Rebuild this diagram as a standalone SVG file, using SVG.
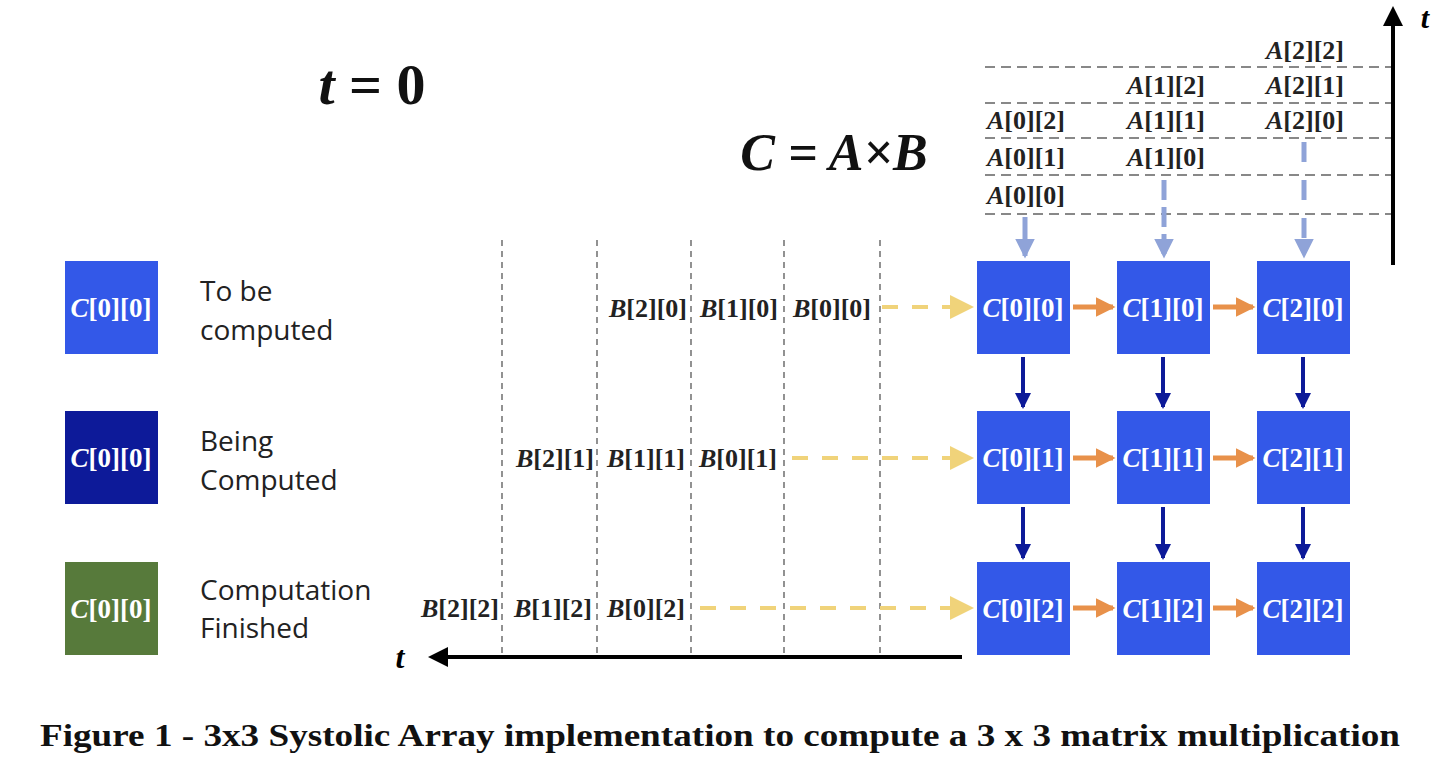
<svg xmlns="http://www.w3.org/2000/svg" width="1440" height="761" viewBox="0 0 1440 761">
<defs>
<style>
.m{font-family:"Liberation Serif",serif;font-weight:bold;font-size:26px;fill:#222;text-anchor:middle}
.m tspan.v{font-style:italic}
.c{font-family:"Liberation Serif",serif;font-weight:bold;font-size:27px;fill:#fff;text-anchor:middle}
.c tspan.v{font-style:italic}
.lg{font-family:"Open Sans","Liberation Sans",sans-serif;font-size:28px;fill:#222}
.gd{stroke:#777;stroke-width:1.6;stroke-dasharray:6,5}
.gh{stroke:#888;stroke-width:2;stroke-dasharray:10,6}
.ye{stroke:#f0d37a;stroke-width:4;stroke-dasharray:16,14}
.la{stroke:#8fa3d8;stroke-width:5}
.to{fill:#3358e8}
</style>
<marker id="ay" markerWidth="6" markerHeight="6" refX="5" refY="3" orient="auto" markerUnits="strokeWidth"><path d="M0,0L6,3L0,6z" fill="#f0d37a"/></marker>
<marker id="ao" markerWidth="4" markerHeight="4" refX="3.5" refY="2" orient="auto" markerUnits="strokeWidth"><path d="M0,0L4,2L0,4z" fill="#e8914a"/></marker>
<marker id="ad" markerWidth="4" markerHeight="4" refX="3.5" refY="2" orient="auto" markerUnits="strokeWidth"><path d="M0,0L4,2L0,4z" fill="#0d1a99"/></marker>
<marker id="al" markerWidth="4" markerHeight="4" refX="3.5" refY="2" orient="auto" markerUnits="strokeWidth"><path d="M0,0L4,2L0,4z" fill="#8fa3d8"/></marker>
<marker id="ab" markerWidth="5" markerHeight="5" refX="4" refY="2.5" orient="auto" markerUnits="strokeWidth"><path d="M0,0L5,2.5L0,5z" fill="#000"/></marker>
</defs>
<rect width="1440" height="761" fill="#fff"/>
<text x="372" y="104" font-family="Liberation Serif,serif" font-weight="bold" font-size="58" text-anchor="middle" fill="#111"><tspan font-style="italic">t</tspan> = 0</text>
<text x="834" y="170" font-family="Liberation Serif,serif" font-weight="bold" font-size="52" text-anchor="middle" fill="#111" font-style="italic">C = A×B</text>
<g id="legend">
<g id="leg1"><rect x="65" y="261" width="93" height="93" class="to"/><text class="c" x="111" y="317"><tspan class="v">C</tspan>[0][0]</text><text class="lg" x="200" y="301">To be</text><text class="lg" x="200" y="340">computed</text></g>
<g id="leg2"><rect x="65" y="411" width="93" height="93" fill="#0d1a99"/><text class="c" x="111" y="467"><tspan class="v">C</tspan>[0][0]</text><text class="lg" x="200" y="451">Being</text><text class="lg" x="200" y="490">Computed</text></g>
<g id="leg3"><rect x="65" y="562" width="93" height="93" fill="#577a3b"/><text class="c" x="111" y="618"><tspan class="v">C</tspan>[0][0]</text><text class="lg" x="200" y="600">Computation</text><text class="lg" x="200" y="638">Finished</text></g>
</g>
<g id="grid">
<line class="gd" x1="502" y1="240" x2="502" y2="656"/><line class="gd" x1="597" y1="240" x2="597" y2="656"/><line class="gd" x1="691" y1="240" x2="691" y2="656"/><line class="gd" x1="784" y1="240" x2="784" y2="656"/><line class="gd" x1="880" y1="240" x2="880" y2="656"/>
<line class="gh" x1="985" y1="67" x2="1392" y2="67"/><line class="gh" x1="985" y1="103" x2="1392" y2="103"/><line class="gh" x1="985" y1="138" x2="1392" y2="138"/><line class="gh" x1="985" y1="175" x2="1392" y2="175"/><line class="gh" x1="985" y1="214" x2="1392" y2="214"/>
</g>
<g id="connectors">
<line x1="1393" y1="265" x2="1393" y2="10" stroke="#000" stroke-width="4" marker-end="url(#ab)"/>
<line x1="962" y1="657" x2="432" y2="657" stroke="#000" stroke-width="4" marker-end="url(#ab)"/>
<line class="ye" x1="882" y1="307" x2="970" y2="307" marker-end="url(#ay)"/>
<line class="ye" x1="792" y1="458" x2="970" y2="458" marker-end="url(#ay)"/>
<line class="ye" x1="700" y1="608" x2="970" y2="608" marker-end="url(#ay)"/>
<line class="la" x1="1025" y1="217" x2="1025" y2="256" marker-end="url(#al)"/>
<line class="la" x1="1164" y1="180" x2="1164" y2="256" stroke-dasharray="20,7" marker-end="url(#al)"/>
<line class="la" x1="1304" y1="142" x2="1304" y2="256" stroke-dasharray="20,18" marker-end="url(#al)"/>
<g stroke="#e8914a" stroke-width="5">
<line x1="1073" y1="307" x2="1113" y2="307" marker-end="url(#ao)"/><line x1="1213" y1="307" x2="1253" y2="307" marker-end="url(#ao)"/>
<line x1="1073" y1="458" x2="1113" y2="458" marker-end="url(#ao)"/><line x1="1213" y1="458" x2="1253" y2="458" marker-end="url(#ao)"/>
<line x1="1073" y1="608" x2="1113" y2="608" marker-end="url(#ao)"/><line x1="1213" y1="608" x2="1253" y2="608" marker-end="url(#ao)"/>
</g>
<g stroke="#0d1a99" stroke-width="4">
<line x1="1023" y1="357" x2="1023" y2="407" marker-end="url(#ad)"/><line x1="1163" y1="357" x2="1163" y2="407" marker-end="url(#ad)"/><line x1="1303" y1="357" x2="1303" y2="407" marker-end="url(#ad)"/>
<line x1="1023" y1="507" x2="1023" y2="558" marker-end="url(#ad)"/><line x1="1163" y1="507" x2="1163" y2="558" marker-end="url(#ad)"/><line x1="1303" y1="507" x2="1303" y2="558" marker-end="url(#ad)"/>
</g>
</g>
<text x="400" y="668" font-family="Liberation Serif,serif" font-weight="bold" font-style="italic" font-size="32" text-anchor="middle">t</text>
<text x="1425" y="28" font-family="Liberation Serif,serif" font-weight="bold" font-style="italic" font-size="30" text-anchor="middle">t</text>
<g id="cells">
<g id="c00"><rect x="977" y="261" width="93" height="93" class="to"/><text class="c" x="1023" y="317"><tspan class="v">C</tspan>[0][0]</text></g>
<g id="c10"><rect x="1117" y="261" width="93" height="93" class="to"/><text class="c" x="1163" y="317"><tspan class="v">C</tspan>[1][0]</text></g>
<g id="c20"><rect x="1257" y="261" width="93" height="93" class="to"/><text class="c" x="1303" y="317"><tspan class="v">C</tspan>[2][0]</text></g>
<g id="c01"><rect x="977" y="411" width="93" height="93" class="to"/><text class="c" x="1023" y="467"><tspan class="v">C</tspan>[0][1]</text></g>
<g id="c11"><rect x="1117" y="411" width="93" height="93" class="to"/><text class="c" x="1163" y="467"><tspan class="v">C</tspan>[1][1]</text></g>
<g id="c21"><rect x="1257" y="411" width="93" height="93" class="to"/><text class="c" x="1303" y="467"><tspan class="v">C</tspan>[2][1]</text></g>
<g id="c02"><rect x="977" y="562" width="93" height="93" class="to"/><text class="c" x="1023" y="618"><tspan class="v">C</tspan>[0][2]</text></g>
<g id="c12"><rect x="1117" y="562" width="93" height="93" class="to"/><text class="c" x="1163" y="618"><tspan class="v">C</tspan>[1][2]</text></g>
<g id="c22"><rect x="1257" y="562" width="93" height="93" class="to"/><text class="c" x="1303" y="618"><tspan class="v">C</tspan>[2][2]</text></g>
</g>
<g id="labelsA">
<text class="m" x="1026" y="204"><tspan class="v">A</tspan>[0][0]</text>
<text class="m" x="1026" y="166"><tspan class="v">A</tspan>[0][1]</text>
<text class="m" x="1026" y="129"><tspan class="v">A</tspan>[0][2]</text>
<text class="m" x="1166" y="166"><tspan class="v">A</tspan>[1][0]</text>
<text class="m" x="1166" y="129"><tspan class="v">A</tspan>[1][1]</text>
<text class="m" x="1166" y="94"><tspan class="v">A</tspan>[1][2]</text>
<text class="m" x="1305" y="129"><tspan class="v">A</tspan>[2][0]</text>
<text class="m" x="1305" y="94"><tspan class="v">A</tspan>[2][1]</text>
<text class="m" x="1305" y="59"><tspan class="v">A</tspan>[2][2]</text>
</g>
<g id="labelsB">
<text class="m" x="648" y="317"><tspan class="v">B</tspan>[2][0]</text>
<text class="m" x="739" y="317"><tspan class="v">B</tspan>[1][0]</text>
<text class="m" x="832" y="317"><tspan class="v">B</tspan>[0][0]</text>
<text class="m" x="555" y="467"><tspan class="v">B</tspan>[2][1]</text>
<text class="m" x="646" y="467"><tspan class="v">B</tspan>[1][1]</text>
<text class="m" x="738" y="467"><tspan class="v">B</tspan>[0][1]</text>
<text class="m" x="460" y="617"><tspan class="v">B</tspan>[2][2]</text>
<text class="m" x="553" y="617"><tspan class="v">B</tspan>[1][2]</text>
<text class="m" x="646" y="617"><tspan class="v">B</tspan>[0][2]</text>
</g>
<text x="720" y="746" font-family="Liberation Serif,serif" font-weight="bold" font-size="32" text-anchor="middle" fill="#111" textLength="1360" lengthAdjust="spacingAndGlyphs">Figure 1 - 3x3 Systolic Array implementation to compute a 3 x 3 matrix multiplication</text>
</svg>
